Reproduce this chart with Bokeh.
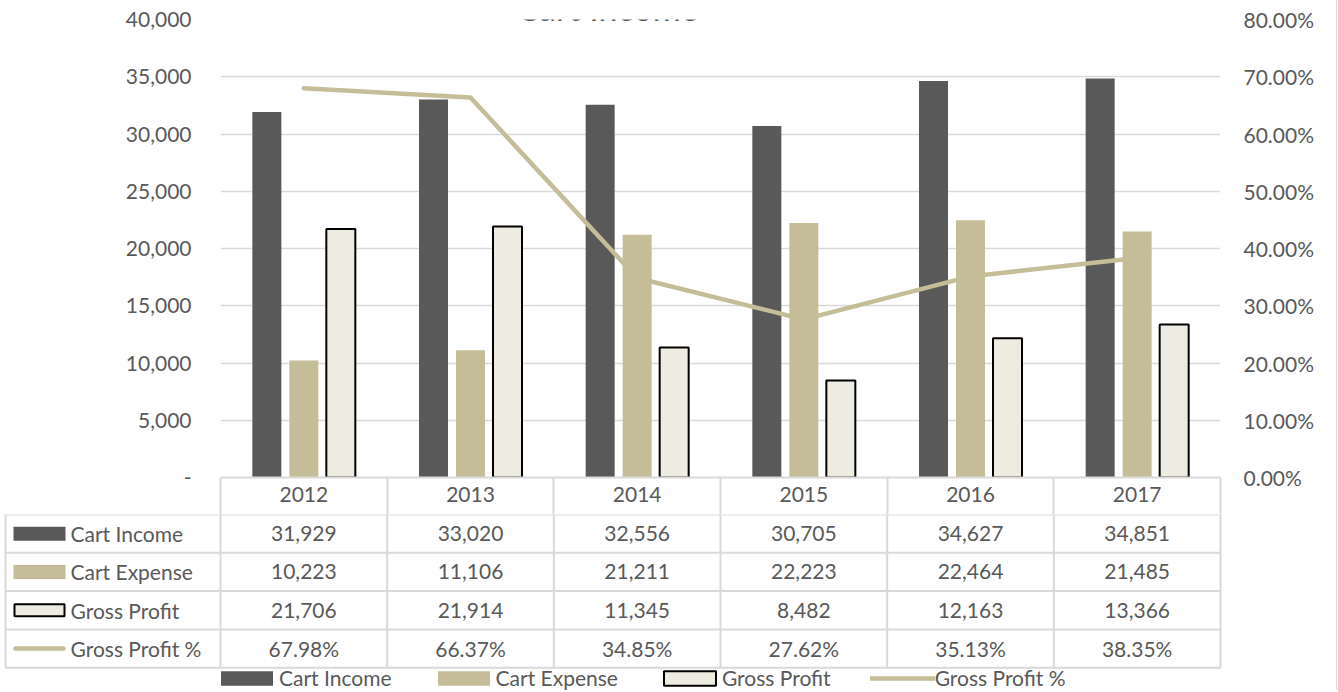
import numpy as np
from bokeh.plotting import figure
from bokeh.models import (Range1d, LinearAxis, FixedTicker, NumeralTickFormatter,
                          Label, Legend, LegendItem)
from bokeh.layouts import column
from bokeh.embed import file_html
from bokeh.resources import INLINE
from bokeh.core.properties import value

# ---------------- data ----------------
title_text = "Cart Income"
years = ["2012", "2013", "2014", "2015", "2016", "2017"]
cart_income = [31929, 33020, 32556, 30705, 34627, 34851]
cart_expense = [10223, 11106, 21211, 22223, 22464, 21485]
gross_profit = [21706, 21914, 11345, 8482, 12163, 13366]
gross_profit_pct = [0.6798, 0.6637, 0.3485, 0.2762, 0.3513, 0.3835]
series_names = ["Cart Income", "Cart Expense", "Gross Profit", "Gross Profit %"]
left_ticks = [0, 5000, 10000, 15000, 20000, 25000, 30000, 35000, 40000]
right_ticks = [0.0, 0.1, 0.2, 0.3, 0.4, 0.5, 0.6, 0.7, 0.8]

# ---------------- style ----------------
FONT = "Lato"
FS = "21px"
TXT = "#595959"
GRID = "#D9D9D9"
C_INCOME = "#595959"
C_EXPENSE = "#C4BD97"
C_PROFIT = "#EEECE1"

# layout (canvas px)
TOTAL_W = 1336
TOTAL_H = 690
FRAME_L = 220
FRAME_W = 1000
FRAME_TOP = 19
FRAME_H = 458
HEADER_H = 37
A_H = FRAME_TOP + FRAME_H + HEADER_H
B_H = TOTAL_H - A_H
ROW_H = 38.3

n = len(years)
centers = np.arange(n) + 0.5
bounds = np.arange(n + 1)


def px2x(px):
    # convert a canvas x pixel to data x of the category scale
    return (px - FRAME_L) * n / FRAME_W


# ---------------- chart ----------------
p = figure(width=TOTAL_W, height=A_H, x_range=Range1d(0, n), y_range=Range1d(0, left_ticks[-1]),
           min_border=0, min_border_left=FRAME_L, min_border_right=TOTAL_W - FRAME_L - FRAME_W,
           min_border_top=FRAME_TOP, min_border_bottom=HEADER_H,
           output_backend="svg", toolbar_location=None)
p.frame_align = False
p.outline_line_color = None
p.background_fill_color = "white"
p.border_fill_color = "white"

la = p.yaxis[0]
la.ticker = FixedTicker(ticks=left_ticks)
la.formatter = NumeralTickFormatter(format="0,0")
la.major_label_overrides = {0: "-"}
la.axis_line_color = None
la.major_tick_line_color = None
la.minor_tick_line_color = None
la.major_tick_out = 0
la.major_tick_in = 0
la.minor_tick_out = 0
la.minor_tick_in = 0
la.major_label_standoff = 29
la.major_label_text_font = FONT
la.major_label_text_font_size = FS
la.major_label_text_color = TXT

p.ygrid[0].ticker = FixedTicker(ticks=left_ticks)
p.ygrid.grid_line_color = GRID
p.ygrid.grid_line_width = 1.5
p.xgrid.grid_line_color = None

xa = p.xaxis[0]
xa.ticker = FixedTicker(ticks=[float(c) for c in centers], minor_ticks=[float(b) for b in bounds])
xa.major_label_overrides = {float(c): y for c, y in zip(centers, years)}
xa.major_tick_line_color = None
xa.major_tick_out = 0
xa.major_tick_in = 0
xa.minor_tick_line_color = GRID
xa.minor_tick_line_width = 2
xa.minor_tick_out = HEADER_H
xa.minor_tick_in = 0
xa.axis_line_color = GRID
xa.axis_line_width = 2
xa.major_label_standoff = 9 - HEADER_H
xa.major_label_text_font = FONT
xa.major_label_text_font_size = FS
xa.major_label_text_color = TXT

p.extra_y_ranges = {"pct": Range1d(0, right_ticks[-1])}
ra = LinearAxis(y_range_name="pct", ticker=FixedTicker(ticks=right_ticks),
                formatter=NumeralTickFormatter(format="0.00%"))
ra.axis_line_color = None
ra.major_tick_line_color = None
ra.minor_tick_line_color = None
ra.major_tick_out = 0
ra.major_tick_in = 0
ra.minor_tick_out = 0
ra.minor_tick_in = 0
ra.major_label_standoff = 23
ra.major_label_text_font = FONT
ra.major_label_text_font_size = FS
ra.major_label_text_color = TXT
p.add_layout(ra, "right")

BW = 0.174
OFF = 0.222
p.vbar(x=centers - OFF, top=cart_income, width=BW, fill_color=C_INCOME, line_color=None)
p.vbar(x=centers, top=cart_expense, width=BW, fill_color=C_EXPENSE, line_color=None)
p.vbar(x=centers + OFF, top=gross_profit, width=BW, fill_color=C_PROFIT,
       line_color="black", line_width=2)
p.line(centers, gross_profit_pct, y_range_name="pct", line_color=C_EXPENSE,
       line_width=4.5, line_cap="round", line_join="round")

# chart title: in the reference it sits mostly above the picture's top edge
title = Label(x=607 - FRAME_L, y=FRAME_H + FRAME_TOP - 7, x_units="screen", y_units="screen",
              text=title_text, text_align="center", text_baseline="alphabetic", text_font=FONT,
              text_font_size="34px", text_color=TXT)
p.add_layout(title)

# ---------------- data table + legend ----------------
t = figure(width=TOTAL_W, height=B_H, x_range=Range1d(px2x(0), px2x(TOTAL_W)),
           y_range=Range1d(B_H / ROW_H, 0), min_border=0,
           x_axis_location=None, y_axis_location=None,
           output_backend="svg", toolbar_location=None)
t.frame_align = False
t.outline_line_color = None
t.xgrid.visible = False
t.ygrid.visible = False

table_left = px2x(5)
row_lines = list(range(len(series_names) + 1))
t.segment(x0=[table_left] * len(row_lines), x1=[n] * len(row_lines), y0=row_lines, y1=row_lines,
          line_color=GRID, line_width=2)
col_lines = [table_left] + [float(b) for b in bounds]
t.segment(x0=col_lines, x1=col_lines, y0=[0] * len(col_lines), y1=[len(series_names)] * len(col_lines),
          line_color=GRID, line_width=2)

table_rows = [
    [f"{v:,}" for v in cart_income],
    [f"{v:,}" for v in cart_expense],
    [f"{v:,}" for v in gross_profit],
    [f"{v * 100:.2f}%" for v in gross_profit_pct],
]
xs, ys, txts = [], [], []
for r, row in enumerate(table_rows):
    for c, s in enumerate(row):
        xs.append(float(centers[c]))
        ys.append(r + 0.5)
        txts.append(s)
t.text(x=xs, y=ys, text=txts, text_align="center", text_baseline="middle",
       text_font=value(FONT), text_font_size=FS, text_color=TXT)

t.text(x=[px2x(70)] * len(series_names), y=[r + 0.5 for r in range(len(series_names))],
       text=series_names, text_align="left", text_baseline="middle",
       text_font=value(FONT), text_font_size=FS, text_color=TXT)

kx = px2x(39)
k1 = t.rect(x=[kx], y=[0.5], width=52, height=14, width_units="screen", height_units="screen",
            fill_color=C_INCOME, line_color=None)
k2 = t.rect(x=[kx], y=[1.5], width=52, height=14, width_units="screen", height_units="screen",
            fill_color=C_EXPENSE, line_color=None)
k3 = t.rect(x=[kx], y=[2.5], width=50, height=12, width_units="screen", height_units="screen",
            fill_color=C_PROFIT, line_color="black", line_width=2)
k4 = t.segment(x0=[px2x(15)], x1=[px2x(63)], y0=[3.5], y1=[3.5], line_color=C_EXPENSE,
               line_width=4.5, line_cap="round")

# bottom legend (area keys are drawn at 80% of the glyph box)
legend = Legend(items=[LegendItem(label=nm, renderers=[r]) for nm, r in zip(series_names, [k1, k2, k3, k4])],
                orientation="horizontal", location=(214, 0), glyph_width=65, glyph_height=18,
                label_standoff=0, spacing=39, padding=0, margin=0, border_line_color=None,
                background_fill_alpha=0, label_text_font=FONT, label_text_font_size=FS,
                label_text_color=TXT)
t.add_layout(legend)

layout = column(p, t, spacing=0, styles={"border-right": "1.5px solid #D9D9D9"})
open("out.html", "w").write(file_html(layout, INLINE))
